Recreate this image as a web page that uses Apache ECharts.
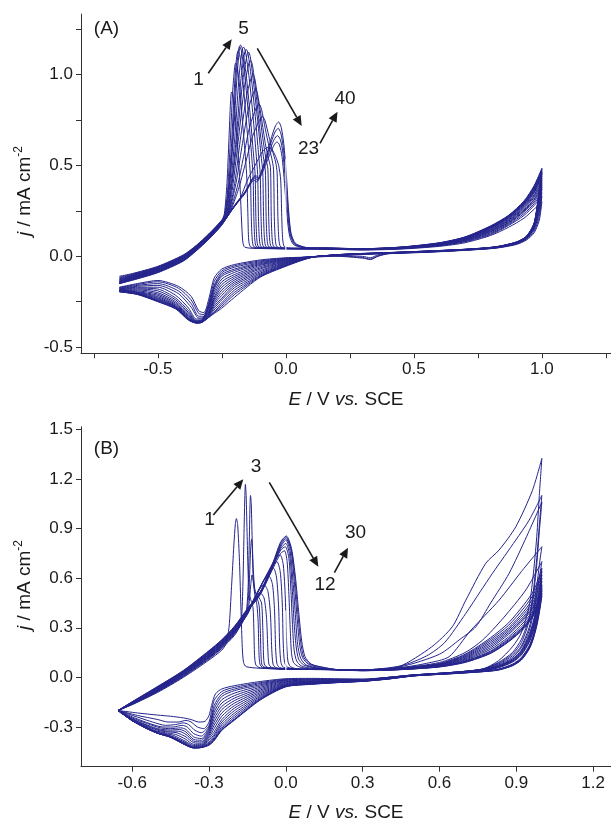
<!DOCTYPE html>
<html><head><meta charset="utf-8">
<script src="https://cdn.jsdelivr.net/npm/echarts@6/dist/echarts.min.js"></script>
<style>html,body{margin:0;padding:0;background:#fff}#c{width:611px;height:825px}</style>
</head><body><div id="c"></div>
<script>
// ---------- Panel A (40 cycles, representative ones) : [E (V), j (mA cm-2)] ----------
const A01 = [[-0.65,-0.11],[-0.6,-0.095],[-0.5,-0.055],[-0.4,0.008],[-0.35,0.06],[-0.3,0.125],[-0.25,0.2],
 [-0.24,0.235],[-0.23,0.4],[-0.222,0.65],[-0.216,0.85],[-0.212,0.905],[-0.207,0.89],[-0.198,0.78],[-0.188,0.6],[-0.18,0.42],[-0.173,0.2],[-0.168,0.08],[-0.16,0.05],[-0.1,0.043],
 [0.15,0.04],[0.3,0.035],[0.45,0.04],[0.6,0.055],[0.7,0.075],[0.8,0.115],[0.87,0.16],[0.93,0.21],[0.97,0.26],[1.0,0.30],
 [0.99,0.2],[0.97,0.13],[0.94,0.09],[0.9,0.065],[0.82,0.045],[0.7,0.033],[0.55,0.022],[0.4,0.014],[0.36,0.0],[0.33,-0.018],[0.3,-0.01],[0.2,0.0],[0.1,-0.004],
 [0.0,-0.008],[-0.1,-0.02],[-0.2,-0.045],[-0.25,-0.07],[-0.28,-0.12],[-0.3,-0.23],[-0.32,-0.31],[-0.34,-0.3],[-0.37,-0.22],[-0.42,-0.165],[-0.5,-0.133],[-0.58,-0.15],[-0.65,-0.17]];
const A02 = [[-0.65,-0.115],[-0.6,-0.098],[-0.5,-0.058],[-0.4,0.006],[-0.35,0.058],[-0.3,0.123],[-0.25,0.198],
 [-0.24,0.225],[-0.228,0.35],[-0.218,0.6],[-0.208,0.9],[-0.2,1.04],[-0.196,1.065],[-0.19,1.045],[-0.18,0.93],[-0.168,0.72],[-0.158,0.55],[-0.152,0.42],[-0.148,0.22],[-0.145,0.09],[-0.138,0.052],[-0.1,0.044],
 [0.15,0.04],[0.3,0.036],[0.45,0.042],[0.6,0.058],[0.7,0.08],[0.8,0.12],[0.87,0.17],[0.93,0.225],[0.97,0.28],[1.0,0.33],
 [0.99,0.22],[0.97,0.14],[0.94,0.095],[0.9,0.068],[0.82,0.046],[0.7,0.034],[0.55,0.023],[0.4,0.015],[0.36,0.003],[0.33,-0.015],[0.3,-0.006],[0.2,0.002],[0.1,-0.004],
 [0.0,-0.01],[-0.1,-0.025],[-0.2,-0.052],[-0.25,-0.08],[-0.28,-0.14],[-0.3,-0.25],[-0.32,-0.32],[-0.34,-0.315],[-0.37,-0.24],[-0.42,-0.175],[-0.5,-0.14],[-0.58,-0.155],[-0.65,-0.172]];
const A03 = [[-0.65,-0.12],[-0.6,-0.101],[-0.5,-0.06],[-0.4,0.004],[-0.35,0.056],[-0.3,0.121],[-0.25,0.197],
 [-0.238,0.225],[-0.225,0.36],[-0.212,0.62],[-0.2,0.95],[-0.192,1.1],[-0.187,1.13],[-0.18,1.11],[-0.168,0.97],[-0.155,0.76],[-0.145,0.58],[-0.138,0.43],[-0.135,0.22],[-0.131,0.09],[-0.124,0.052],[-0.08,0.044],
 [0.15,0.041],[0.3,0.037],[0.45,0.043],[0.6,0.06],[0.7,0.083],[0.8,0.125],[0.87,0.175],[0.93,0.235],[0.97,0.29],[1.0,0.35],
 [0.99,0.24],[0.97,0.15],[0.94,0.098],[0.9,0.07],[0.82,0.047],[0.7,0.034],[0.55,0.024],[0.4,0.016],[0.36,0.008],[0.33,-0.008],[0.3,0.0],[0.2,0.004],[0.1,-0.003],
 [0.0,-0.012],[-0.1,-0.03],[-0.2,-0.06],[-0.25,-0.09],[-0.28,-0.16],[-0.3,-0.26],[-0.32,-0.33],[-0.34,-0.33],[-0.37,-0.26],[-0.42,-0.19],[-0.5,-0.15],[-0.58,-0.16],[-0.65,-0.175]];
const A04 = [[-0.65,-0.124],[-0.6,-0.104],[-0.5,-0.062],[-0.4,0.002],[-0.35,0.055],[-0.3,0.12],[-0.25,0.196],
 [-0.236,0.226],[-0.222,0.37],[-0.208,0.64],[-0.195,0.98],[-0.186,1.13],[-0.181,1.155],[-0.174,1.135],[-0.16,0.99],[-0.146,0.78],[-0.135,0.58],[-0.128,0.44],[-0.125,0.22],[-0.121,0.09],[-0.114,0.052],[-0.07,0.044],
 [0.15,0.041],[0.3,0.037],[0.45,0.044],[0.6,0.062],[0.7,0.086],[0.8,0.13],[0.87,0.18],[0.93,0.245],[0.97,0.3],[1.0,0.37],
 [0.99,0.26],[0.97,0.155],[0.94,0.1],[0.9,0.07],[0.82,0.048],[0.7,0.035],[0.55,0.024],[0.4,0.016],[0.3,0.011],[0.2,0.005],[0.1,-0.002],
 [0.0,-0.015],[-0.1,-0.035],[-0.2,-0.07],[-0.25,-0.1],[-0.28,-0.17],[-0.3,-0.27],[-0.32,-0.335],[-0.34,-0.34],[-0.37,-0.28],[-0.42,-0.205],[-0.5,-0.16],[-0.58,-0.165],[-0.65,-0.178]];
const A05 = [[-0.65,-0.127],[-0.6,-0.106],[-0.5,-0.064],[-0.4,0.0],[-0.35,0.054],[-0.3,0.119],[-0.25,0.195],
 [-0.235,0.228],[-0.22,0.38],[-0.205,0.66],[-0.19,1.0],[-0.181,1.145],[-0.177,1.164],[-0.17,1.145],[-0.155,1.0],[-0.14,0.79],[-0.128,0.59],[-0.12,0.45],[-0.117,0.22],[-0.113,0.09],[-0.106,0.052],[-0.06,0.044],
 [0.15,0.042],[0.3,0.038],[0.45,0.044],[0.6,0.063],[0.7,0.088],[0.8,0.135],[0.87,0.185],[0.93,0.25],[0.97,0.31],[1.0,0.38],
 [0.99,0.27],[0.97,0.16],[0.94,0.1],[0.9,0.071],[0.82,0.048],[0.7,0.035],[0.55,0.025],[0.4,0.017],[0.3,0.012],[0.2,0.006],[0.1,-0.002],
 [0.0,-0.017],[-0.1,-0.04],[-0.2,-0.078],[-0.25,-0.11],[-0.28,-0.18],[-0.3,-0.275],[-0.33,-0.345],[-0.35,-0.345],[-0.38,-0.285],[-0.43,-0.215],[-0.5,-0.17],[-0.58,-0.17],[-0.65,-0.18]];
const A07 = [[-0.65,-0.13],[-0.6,-0.108],[-0.5,-0.066],[-0.4,-0.002],[-0.35,0.053],[-0.3,0.118],[-0.25,0.194],
 [-0.232,0.23],[-0.215,0.4],[-0.198,0.68],[-0.182,1.0],[-0.17,1.14],[-0.165,1.152],[-0.158,1.13],[-0.143,0.98],[-0.128,0.77],[-0.117,0.58],[-0.11,0.45],[-0.107,0.22],[-0.103,0.09],[-0.096,0.052],[-0.05,0.044],
 [0.15,0.042],[0.3,0.038],[0.45,0.045],[0.6,0.064],[0.7,0.09],[0.8,0.138],[0.87,0.188],[0.93,0.255],[0.97,0.315],[1.0,0.39],
 [0.99,0.28],[0.97,0.16],[0.94,0.1],[0.9,0.072],[0.82,0.048],[0.7,0.035],[0.55,0.025],[0.4,0.017],[0.3,0.012],[0.2,0.006],[0.1,-0.003],
 [0.0,-0.02],[-0.1,-0.045],[-0.2,-0.088],[-0.25,-0.125],[-0.28,-0.195],[-0.3,-0.285],[-0.33,-0.35],[-0.35,-0.352],[-0.38,-0.3],[-0.43,-0.23],[-0.5,-0.18],[-0.58,-0.175],[-0.65,-0.182]];
const A09 = [[-0.65,-0.133],[-0.6,-0.11],[-0.5,-0.068],[-0.4,-0.004],[-0.35,0.052],[-0.3,0.117],[-0.25,0.193],
 [-0.23,0.232],[-0.212,0.4],[-0.192,0.68],[-0.175,0.98],[-0.161,1.12],[-0.155,1.14],[-0.148,1.12],[-0.133,0.96],[-0.118,0.75],[-0.107,0.57],[-0.1,0.45],[-0.097,0.22],[-0.093,0.09],[-0.086,0.052],[-0.04,0.044],
 [0.15,0.042],[0.3,0.039],[0.45,0.046],[0.6,0.066],[0.7,0.093],[0.8,0.142],[0.87,0.193],[0.93,0.262],[0.97,0.325],[1.0,0.40],
 [0.99,0.29],[0.97,0.165],[0.94,0.102],[0.9,0.073],[0.82,0.049],[0.7,0.036],[0.55,0.025],[0.4,0.017],[0.3,0.012],[0.2,0.006],[0.1,-0.003],
 [0.0,-0.023],[-0.1,-0.05],[-0.2,-0.1],[-0.25,-0.14],[-0.28,-0.21],[-0.3,-0.29],[-0.33,-0.353],[-0.35,-0.355],[-0.38,-0.31],[-0.43,-0.24],[-0.5,-0.19],[-0.58,-0.18],[-0.65,-0.184]];
const A11 = [[-0.65,-0.136],[-0.6,-0.112],[-0.5,-0.07],[-0.4,-0.006],[-0.35,0.05],[-0.3,0.115],[-0.25,0.192],
 [-0.228,0.234],[-0.21,0.4],[-0.188,0.68],[-0.168,0.97],[-0.152,1.105],[-0.146,1.125],[-0.139,1.1],[-0.124,0.93],[-0.108,0.72],[-0.097,0.56],[-0.09,0.46],[-0.087,0.22],[-0.083,0.09],[-0.076,0.052],[-0.03,0.044],
 [0.15,0.043],[0.3,0.039],[0.45,0.046],[0.6,0.067],[0.7,0.095],[0.8,0.145],[0.87,0.197],[0.93,0.268],[0.97,0.333],[1.0,0.41],
 [0.99,0.3],[0.97,0.165],[0.94,0.103],[0.9,0.073],[0.82,0.049],[0.7,0.036],[0.55,0.026],[0.4,0.018],[0.3,0.013],[0.2,0.007],[0.1,-0.003],
 [0.0,-0.026],[-0.1,-0.057],[-0.2,-0.11],[-0.25,-0.155],[-0.28,-0.225],[-0.3,-0.3],[-0.33,-0.355],[-0.35,-0.358],[-0.38,-0.318],[-0.43,-0.25],[-0.5,-0.2],[-0.58,-0.185],[-0.65,-0.186]];
const A13 = [[-0.65,-0.138],[-0.6,-0.114],[-0.5,-0.072],[-0.4,-0.008],[-0.35,0.048],[-0.3,0.113],[-0.25,0.19],
 [-0.226,0.236],[-0.206,0.4],[-0.184,0.66],[-0.162,0.93],[-0.145,1.06],[-0.138,1.08],[-0.13,1.05],[-0.115,0.88],[-0.1,0.68],[-0.088,0.55],[-0.08,0.47],[-0.077,0.22],[-0.073,0.09],[-0.066,0.052],[-0.02,0.044],
 [0.15,0.043],[0.3,0.039],[0.45,0.047],[0.6,0.068],[0.7,0.097],[0.8,0.148],[0.87,0.2],[0.93,0.273],[0.97,0.34],[1.0,0.42],
 [0.99,0.31],[0.97,0.17],[0.94,0.104],[0.9,0.074],[0.82,0.05],[0.7,0.036],[0.55,0.026],[0.4,0.018],[0.3,0.013],[0.2,0.007],[0.1,-0.004],
 [0.0,-0.029],[-0.1,-0.064],[-0.2,-0.12],[-0.25,-0.17],[-0.28,-0.235],[-0.3,-0.305],[-0.33,-0.356],[-0.35,-0.36],[-0.38,-0.325],[-0.43,-0.258],[-0.5,-0.208],[-0.58,-0.19],[-0.65,-0.188]];
const A15 = [[-0.65,-0.14],[-0.6,-0.116],[-0.5,-0.074],[-0.4,-0.01],[-0.35,0.046],[-0.3,0.111],[-0.25,0.188],
 [-0.225,0.236],[-0.2,0.4],[-0.178,0.64],[-0.155,0.87],[-0.136,0.98],[-0.128,1.0],[-0.12,0.97],[-0.105,0.82],[-0.09,0.65],[-0.078,0.54],[-0.07,0.48],[-0.067,0.22],[-0.063,0.09],[-0.056,0.052],[-0.01,0.044],
 [0.15,0.043],[0.3,0.04],[0.45,0.047],[0.6,0.069],[0.7,0.099],[0.8,0.152],[0.87,0.205],[0.93,0.278],[0.97,0.35],[1.0,0.43],
 [0.99,0.32],[0.97,0.17],[0.94,0.105],[0.9,0.075],[0.82,0.05],[0.7,0.037],[0.55,0.027],[0.4,0.018],[0.3,0.013],[0.2,0.007],[0.1,-0.004],
 [0.0,-0.032],[-0.1,-0.07],[-0.2,-0.13],[-0.25,-0.185],[-0.28,-0.245],[-0.3,-0.31],[-0.33,-0.358],[-0.35,-0.362],[-0.38,-0.33],[-0.43,-0.265],[-0.5,-0.215],[-0.58,-0.195],[-0.65,-0.19]];
const A17 = [[-0.65,-0.142],[-0.6,-0.118],[-0.5,-0.076],[-0.4,-0.012],[-0.35,0.044],[-0.3,0.109],[-0.25,0.186],
 [-0.224,0.236],[-0.195,0.4],[-0.172,0.6],[-0.148,0.8],[-0.127,0.9],[-0.118,0.92],[-0.11,0.89],[-0.095,0.76],[-0.08,0.62],[-0.068,0.54],[-0.06,0.49],[-0.057,0.22],[-0.053,0.09],[-0.046,0.052],[0.0,0.044],
 [0.15,0.044],[0.3,0.04],[0.45,0.048],[0.6,0.07],[0.7,0.1],[0.8,0.155],[0.87,0.208],[0.93,0.283],[0.97,0.355],[1.0,0.44],
 [0.99,0.33],[0.97,0.175],[0.94,0.106],[0.9,0.075],[0.82,0.05],[0.7,0.037],[0.55,0.027],[0.4,0.019],[0.3,0.014],[0.2,0.008],[0.1,-0.004],
 [0.0,-0.035],[-0.1,-0.078],[-0.2,-0.14],[-0.25,-0.2],[-0.28,-0.255],[-0.3,-0.315],[-0.33,-0.36],[-0.35,-0.363],[-0.38,-0.335],[-0.43,-0.27],[-0.5,-0.222],[-0.58,-0.198],[-0.65,-0.19]];
const A19 = [[-0.65,-0.144],[-0.6,-0.12],[-0.5,-0.078],[-0.4,-0.014],[-0.35,0.042],[-0.3,0.107],[-0.25,0.184],
 [-0.222,0.238],[-0.19,0.38],[-0.165,0.55],[-0.14,0.72],[-0.115,0.82],[-0.105,0.84],[-0.095,0.81],[-0.08,0.7],[-0.065,0.6],[-0.055,0.54],[-0.048,0.48],[-0.045,0.22],[-0.041,0.09],[-0.034,0.052],[0.01,0.044],
 [0.15,0.044],[0.3,0.04],[0.45,0.048],[0.6,0.07],[0.7,0.101],[0.8,0.157],[0.87,0.212],[0.93,0.287],[0.97,0.36],[1.0,0.45],
 [0.99,0.34],[0.97,0.175],[0.94,0.107],[0.9,0.076],[0.82,0.051],[0.7,0.037],[0.55,0.027],[0.4,0.019],[0.3,0.014],[0.2,0.008],[0.1,-0.005],
 [0.0,-0.038],[-0.1,-0.085],[-0.2,-0.15],[-0.25,-0.215],[-0.28,-0.265],[-0.3,-0.32],[-0.33,-0.361],[-0.35,-0.364],[-0.38,-0.34],[-0.43,-0.275],[-0.5,-0.228],[-0.58,-0.2],[-0.65,-0.192]];
const A21 = [[-0.65,-0.146],[-0.6,-0.122],[-0.5,-0.08],[-0.4,-0.016],[-0.35,0.04],[-0.3,0.105],[-0.25,0.182],
 [-0.22,0.238],[-0.185,0.37],[-0.16,0.5],[-0.13,0.66],[-0.103,0.75],[-0.092,0.77],[-0.082,0.75],[-0.066,0.66],[-0.052,0.58],[-0.04,0.52],[-0.034,0.46],[-0.031,0.22],[-0.027,0.09],[-0.02,0.052],[0.02,0.044],
 [0.15,0.044],[0.3,0.041],[0.45,0.049],[0.6,0.071],[0.7,0.102],[0.8,0.159],[0.87,0.215],[0.93,0.29],[0.97,0.365],[1.0,0.455],
 [0.99,0.345],[0.97,0.178],[0.94,0.108],[0.9,0.076],[0.82,0.051],[0.7,0.038],[0.55,0.028],[0.4,0.019],[0.3,0.014],[0.2,0.008],[0.1,-0.005],
 [0.0,-0.041],[-0.1,-0.092],[-0.2,-0.16],[-0.25,-0.23],[-0.28,-0.275],[-0.3,-0.322],[-0.33,-0.362],[-0.35,-0.365],[-0.38,-0.343],[-0.43,-0.278],[-0.5,-0.233],[-0.58,-0.203],[-0.65,-0.192]];
const A23 = [[-0.65,-0.147],[-0.6,-0.124],[-0.5,-0.082],[-0.4,-0.018],[-0.35,0.038],[-0.3,0.103],[-0.25,0.18],
 [-0.22,0.238],[-0.18,0.315],[-0.15,0.42],[-0.12,0.5],[-0.09,0.58],[-0.07,0.6],[-0.055,0.59],[-0.04,0.55],[-0.028,0.5],[-0.02,0.42],[-0.016,0.22],[-0.012,0.09],[-0.005,0.052],[0.03,0.044],
 [0.15,0.045],[0.3,0.041],[0.45,0.049],[0.6,0.071],[0.7,0.103],[0.8,0.16],[0.87,0.217],[0.93,0.293],[0.97,0.37],[1.0,0.46],
 [0.99,0.35],[0.97,0.18],[0.94,0.108],[0.9,0.077],[0.82,0.051],[0.7,0.038],[0.55,0.028],[0.4,0.02],[0.3,0.015],[0.2,0.008],[0.1,-0.005],
 [0.0,-0.044],[-0.1,-0.098],[-0.2,-0.172],[-0.25,-0.24],[-0.28,-0.285],[-0.3,-0.325],[-0.33,-0.363],[-0.35,-0.366],[-0.38,-0.345],[-0.43,-0.28],[-0.5,-0.238],[-0.58,-0.205],[-0.65,-0.193]];
const A27 = [[-0.65,-0.148],[-0.6,-0.126],[-0.5,-0.084],[-0.4,-0.02],[-0.35,0.036],[-0.3,0.101],[-0.25,0.178],
 [-0.2,0.275],[-0.16,0.345],[-0.135,0.405],[-0.125,0.42],[-0.115,0.41],[-0.1,0.435],[-0.08,0.5],[-0.06,0.57],[-0.045,0.615],[-0.035,0.63],[-0.025,0.615],[-0.015,0.55],[-0.005,0.4],[0.005,0.22],[0.015,0.11],[0.03,0.065],[0.06,0.05],[0.1,0.045],
 [0.15,0.045],[0.3,0.041],[0.45,0.05],[0.6,0.072],[0.7,0.104],[0.8,0.162],[0.87,0.22],[0.93,0.296],[0.97,0.375],[1.0,0.465],
 [0.99,0.355],[0.97,0.18],[0.94,0.109],[0.9,0.077],[0.82,0.052],[0.7,0.038],[0.55,0.028],[0.4,0.02],[0.3,0.015],[0.2,0.008],[0.1,-0.006],
 [0.0,-0.047],[-0.1,-0.104],[-0.2,-0.185],[-0.25,-0.255],[-0.28,-0.295],[-0.3,-0.33],[-0.33,-0.364],[-0.35,-0.366],[-0.38,-0.347],[-0.43,-0.282],[-0.5,-0.242],[-0.58,-0.207],[-0.65,-0.194]];
const A31 = [[-0.65,-0.149],[-0.6,-0.128],[-0.5,-0.086],[-0.4,-0.022],[-0.35,0.034],[-0.3,0.099],[-0.25,0.176],
 [-0.2,0.278],[-0.16,0.35],[-0.133,0.415],[-0.122,0.432],[-0.112,0.418],[-0.1,0.445],[-0.08,0.515],[-0.06,0.595],[-0.045,0.645],[-0.033,0.665],[-0.022,0.645],[-0.012,0.575],[-0.002,0.42],[0.007,0.24],[0.017,0.12],[0.033,0.068],[0.065,0.05],[0.1,0.045],
 [0.15,0.045],[0.3,0.042],[0.45,0.05],[0.6,0.073],[0.7,0.105],[0.8,0.164],[0.87,0.222],[0.93,0.298],[0.97,0.38],[1.0,0.47],
 [0.99,0.36],[0.97,0.182],[0.94,0.11],[0.9,0.078],[0.82,0.052],[0.7,0.038],[0.55,0.029],[0.4,0.02],[0.3,0.015],[0.2,0.009],[0.1,-0.006],
 [0.0,-0.05],[-0.1,-0.108],[-0.2,-0.198],[-0.25,-0.265],[-0.28,-0.305],[-0.3,-0.333],[-0.33,-0.364],[-0.35,-0.366],[-0.38,-0.348],[-0.43,-0.285],[-0.5,-0.245],[-0.58,-0.208],[-0.65,-0.194]];
const A35 = [[-0.65,-0.15],[-0.6,-0.13],[-0.5,-0.088],[-0.4,-0.024],[-0.35,0.032],[-0.3,0.097],[-0.25,0.174],
 [-0.2,0.28],[-0.16,0.352],[-0.132,0.422],[-0.12,0.44],[-0.11,0.425],[-0.097,0.458],[-0.077,0.54],[-0.057,0.63],[-0.042,0.685],[-0.03,0.705],[-0.02,0.68],[-0.01,0.6],[0.0,0.435],[0.009,0.255],[0.019,0.125],[0.035,0.07],[0.068,0.051],[0.1,0.045],
 [0.15,0.045],[0.3,0.042],[0.45,0.051],[0.6,0.074],[0.7,0.106],[0.8,0.166],[0.87,0.224],[0.93,0.3],[0.97,0.385],[1.0,0.48],
 [0.99,0.365],[0.97,0.183],[0.94,0.11],[0.9,0.078],[0.82,0.052],[0.7,0.039],[0.55,0.029],[0.4,0.02],[0.3,0.016],[0.2,0.009],[0.1,-0.006],
 [0.0,-0.052],[-0.1,-0.112],[-0.2,-0.21],[-0.25,-0.275],[-0.28,-0.31],[-0.3,-0.335],[-0.33,-0.365],[-0.35,-0.367],[-0.38,-0.35],[-0.43,-0.288],[-0.5,-0.248],[-0.58,-0.209],[-0.65,-0.195]];
const A40 = [[-0.65,-0.15],[-0.6,-0.132],[-0.5,-0.09],[-0.4,-0.026],[-0.35,0.03],[-0.3,0.095],[-0.25,0.172],
 [-0.2,0.282],[-0.16,0.355],[-0.13,0.43],[-0.118,0.447],[-0.108,0.432],[-0.095,0.47],[-0.075,0.56],[-0.055,0.66],[-0.04,0.72],[-0.028,0.74],[-0.018,0.71],[-0.008,0.62],[0.002,0.45],[0.01,0.27],[0.02,0.13],[0.037,0.072],[0.07,0.052],[0.1,0.046],
 [0.15,0.046],[0.3,0.042],[0.45,0.051],[0.6,0.075],[0.7,0.107],[0.8,0.168],[0.87,0.226],[0.93,0.305],[0.97,0.39],[1.0,0.485],
 [0.99,0.37],[0.97,0.185],[0.94,0.111],[0.9,0.079],[0.82,0.053],[0.7,0.039],[0.55,0.029],[0.4,0.021],[0.3,0.016],[0.2,0.009],[0.1,-0.006],
 [0.0,-0.055],[-0.1,-0.115],[-0.2,-0.225],[-0.25,-0.285],[-0.28,-0.315],[-0.3,-0.335],[-0.33,-0.365],[-0.35,-0.367],[-0.38,-0.352],[-0.43,-0.29],[-0.5,-0.25],[-0.58,-0.21],[-0.65,-0.195]];
const gapA = [[0,0.015],[0,0.535]];

// ---------- Panel B (30 cycles, representative ones) ----------
const B01 = [[-0.655,-0.2],[-0.6,-0.165],[-0.5,-0.09],[-0.4,0.0],[-0.3,0.105],[-0.25,0.165],
 [-0.235,0.2],[-0.222,0.3],[-0.212,0.55],[-0.203,0.8],[-0.197,0.93],[-0.193,0.96],[-0.188,0.92],[-0.181,0.7],[-0.175,0.4],[-0.17,0.18],[-0.165,0.09],[-0.155,0.065],[-0.1,0.055],[0.0,0.05],
 [0.15,0.048],[0.3,0.045],[0.44,0.064],[0.57,0.185],[0.65,0.306],[0.703,0.467],[0.781,0.69],[0.833,0.77],[0.898,0.91],[0.963,1.13],[1.0,1.324],
 [0.99,1.1],[0.98,0.85],[0.965,0.6],[0.95,0.43],[0.92,0.27],[0.885,0.185],[0.83,0.1],[0.768,0.05],[0.65,0.03],[0.5,0.015],[0.4,0.0],[0.3,-0.01],[0.2,-0.008],[0.1,-0.006],
 [0.0,-0.008],[-0.1,-0.025],[-0.2,-0.05],[-0.25,-0.07],[-0.275,-0.1],[-0.29,-0.17],[-0.3,-0.23],[-0.315,-0.265],[-0.34,-0.27],[-0.37,-0.255],[-0.4,-0.245],[-0.45,-0.235],[-0.5,-0.228],[-0.58,-0.215],[-0.655,-0.2]];
const B02 = [[-0.655,-0.2],[-0.6,-0.163],[-0.5,-0.086],[-0.4,0.005],[-0.3,0.112],[-0.25,0.175],[-0.2,0.255],
 [-0.18,0.31],[-0.172,0.38],[-0.167,0.6],[-0.163,0.9],[-0.16,1.1],[-0.158,1.167],[-0.155,1.1],[-0.151,0.85],[-0.147,0.62],[-0.142,0.5],[-0.135,0.46],[-0.128,0.42],[-0.125,0.3],[-0.122,0.13],[-0.117,0.075],[-0.1,0.058],[0.0,0.05],
 [0.15,0.048],[0.3,0.045],[0.45,0.07],[0.55,0.13],[0.62,0.21],[0.703,0.387],[0.76,0.52],[0.807,0.629],[0.898,0.83],[0.95,0.95],[1.0,1.1],
 [0.99,0.92],[0.98,0.72],[0.965,0.5],[0.95,0.36],[0.92,0.23],[0.885,0.15],[0.83,0.09],[0.768,0.05],[0.65,0.03],[0.5,0.015],[0.4,0.0],[0.3,-0.012],[0.2,-0.012],[0.1,-0.01],
 [0.0,-0.012],[-0.1,-0.032],[-0.2,-0.06],[-0.25,-0.085],[-0.28,-0.14],[-0.3,-0.27],[-0.32,-0.31],[-0.345,-0.3],[-0.37,-0.27],[-0.39,-0.26],[-0.42,-0.27],[-0.46,-0.27],[-0.5,-0.255],[-0.58,-0.23],[-0.655,-0.2]];
const B03 = [[-0.655,-0.2],[-0.6,-0.162],[-0.5,-0.084],[-0.4,0.008],[-0.3,0.116],[-0.25,0.18],[-0.2,0.262],[-0.17,0.33],
 [-0.155,0.39],[-0.148,0.52],[-0.143,0.8],[-0.14,1.04],[-0.138,1.1],[-0.135,1.05],[-0.131,0.8],[-0.127,0.58],[-0.12,0.49],[-0.113,0.44],[-0.108,0.33],[-0.105,0.15],[-0.101,0.08],[-0.09,0.06],[0.0,0.05],
 [0.15,0.048],[0.3,0.046],[0.45,0.065],[0.6,0.14],[0.68,0.23],[0.742,0.306],[0.8,0.45],[0.872,0.629],[0.94,0.85],[1.0,1.06],
 [0.99,0.88],[0.98,0.68],[0.965,0.47],[0.95,0.34],[0.92,0.21],[0.885,0.14],[0.83,0.085],[0.768,0.05],[0.65,0.03],[0.5,0.015],[0.4,0.0],[0.3,-0.014],[0.2,-0.014],[0.1,-0.012],
 [0.0,-0.015],[-0.1,-0.038],[-0.2,-0.07],[-0.25,-0.1],[-0.28,-0.17],[-0.3,-0.29],[-0.33,-0.335],[-0.355,-0.32],[-0.38,-0.285],[-0.4,-0.275],[-0.43,-0.285],[-0.47,-0.29],[-0.52,-0.27],[-0.58,-0.24],[-0.655,-0.2]];
const B04 = [[-0.655,-0.2],[-0.6,-0.161],[-0.5,-0.082],[-0.4,0.011],[-0.3,0.12],[-0.25,0.184],[-0.2,0.266],[-0.17,0.335],
 [-0.152,0.4],[-0.144,0.53],[-0.139,0.72],[-0.136,0.81],[-0.134,0.835],[-0.131,0.8],[-0.127,0.65],[-0.121,0.53],[-0.112,0.48],[-0.104,0.43],[-0.1,0.3],[-0.097,0.14],[-0.093,0.075],[-0.08,0.06],[0.0,0.05],
 [0.15,0.048],[0.3,0.046],[0.45,0.06],[0.55,0.085],[0.6375,0.125],[0.72,0.28],[0.833,0.467],[0.92,0.64],[1.0,0.79],
 [0.99,0.68],[0.98,0.55],[0.965,0.4],[0.95,0.3],[0.92,0.19],[0.885,0.13],[0.83,0.08],[0.768,0.05],[0.65,0.03],[0.5,0.015],[0.4,0.0],[0.3,-0.015],[0.2,-0.016],[0.1,-0.015],
 [0.0,-0.018],[-0.1,-0.045],[-0.2,-0.08],[-0.25,-0.115],[-0.28,-0.19],[-0.3,-0.3],[-0.33,-0.355],[-0.36,-0.34],[-0.385,-0.3],[-0.405,-0.29],[-0.44,-0.3],[-0.48,-0.3],[-0.53,-0.28],[-0.59,-0.245],[-0.655,-0.2]];
const B05 = [[-0.655,-0.2],[-0.6,-0.16],[-0.5,-0.08],[-0.4,0.014],[-0.3,0.123],[-0.25,0.188],[-0.2,0.27],[-0.16,0.36],
 [-0.145,0.43],[-0.137,0.56],[-0.132,0.62],[-0.127,0.58],[-0.12,0.52],[-0.108,0.49],[-0.095,0.45],[-0.09,0.3],[-0.087,0.13],[-0.083,0.075],[-0.07,0.06],[0.0,0.05],
 [0.15,0.048],[0.3,0.046],[0.45,0.058],[0.6,0.09],[0.7,0.15],[0.768,0.225],[0.85,0.36],[0.937,0.528],[1.0,0.7],
 [0.99,0.6],[0.98,0.5],[0.965,0.37],[0.95,0.28],[0.92,0.18],[0.885,0.12],[0.83,0.075],[0.768,0.048],[0.65,0.03],[0.5,0.014],[0.4,-0.002],[0.3,-0.016],[0.2,-0.018],[0.1,-0.018],
 [0.0,-0.022],[-0.1,-0.052],[-0.2,-0.095],[-0.25,-0.135],[-0.28,-0.21],[-0.3,-0.31],[-0.33,-0.37],[-0.36,-0.36],[-0.39,-0.315],[-0.41,-0.305],[-0.45,-0.31],[-0.49,-0.305],[-0.54,-0.28],[-0.6,-0.245],[-0.655,-0.2]];
const B06 = [[-0.655,-0.2],[-0.6,-0.159],[-0.5,-0.078],[-0.4,0.017],[-0.3,0.126],[-0.25,0.192],[-0.2,0.274],[-0.15,0.38],
 [-0.13,0.455],[-0.115,0.5],[-0.1,0.51],[-0.085,0.48],[-0.075,0.35],[-0.07,0.16],[-0.066,0.08],[-0.055,0.06],[0.0,0.05],
 [0.15,0.048],[0.3,0.045],[0.45,0.056],[0.6,0.085],[0.7,0.14],[0.8,0.24],[0.87,0.33],[0.93,0.44],[0.97,0.53],[1.0,0.66],
 [0.99,0.52],[0.98,0.43],[0.965,0.33],[0.95,0.26],[0.92,0.165],[0.885,0.112],[0.83,0.07],[0.768,0.046],[0.65,0.028],[0.5,0.013],[0.4,-0.004],[0.3,-0.018],[0.2,-0.021],[0.1,-0.022],
 [0.0,-0.026],[-0.1,-0.06],[-0.2,-0.11],[-0.25,-0.155],[-0.28,-0.23],[-0.3,-0.32],[-0.33,-0.38],[-0.36,-0.375],[-0.39,-0.33],[-0.415,-0.315],[-0.45,-0.318],[-0.5,-0.31],[-0.55,-0.283],[-0.6,-0.25],[-0.655,-0.2]];
const B07 = [[-0.655,-0.2],[-0.6,-0.158],[-0.5,-0.076],[-0.4,0.02],[-0.3,0.129],[-0.25,0.195],[-0.2,0.277],[-0.15,0.383],
 [-0.12,0.48],[-0.1,0.54],[-0.085,0.56],[-0.07,0.52],[-0.06,0.38],[-0.055,0.17],[-0.05,0.08],[-0.04,0.06],[0.0,0.05],
 [0.15,0.048],[0.3,0.045],[0.45,0.055],[0.6,0.082],[0.7,0.135],[0.8,0.23],[0.87,0.315],[0.93,0.42],[0.97,0.51],[1.0,0.64],
 [0.99,0.51],[0.98,0.42],[0.965,0.32],[0.95,0.25],[0.92,0.16],[0.885,0.11],[0.83,0.069],[0.768,0.045],[0.65,0.028],[0.5,0.013],[0.4,-0.005],[0.3,-0.019],[0.2,-0.022],[0.1,-0.024],
 [0.0,-0.03],[-0.1,-0.068],[-0.2,-0.125],[-0.25,-0.175],[-0.28,-0.25],[-0.3,-0.33],[-0.33,-0.39],[-0.36,-0.385],[-0.39,-0.345],[-0.42,-0.325],[-0.46,-0.325],[-0.5,-0.315],[-0.55,-0.287],[-0.6,-0.252],[-0.655,-0.2]];
const B08 = [[-0.655,-0.2],[-0.6,-0.157],[-0.5,-0.074],[-0.4,0.022],[-0.3,0.132],[-0.25,0.198],[-0.2,0.28],[-0.15,0.386],
 [-0.12,0.482],[-0.1,0.542],[-0.08,0.6],[-0.065,0.61],[-0.052,0.56],[-0.044,0.4],[-0.04,0.18],[-0.035,0.085],[-0.025,0.06],[0.02,0.05],
 [0.15,0.048],[0.3,0.044],[0.45,0.054],[0.6,0.08],[0.7,0.13],[0.8,0.22],[0.87,0.3],[0.93,0.4],[0.97,0.49],[1.0,0.62],
 [0.99,0.5],[0.98,0.41],[0.965,0.31],[0.95,0.24],[0.92,0.155],[0.885,0.105],[0.83,0.067],[0.768,0.044],[0.65,0.027],[0.5,0.012],[0.4,-0.005],[0.3,-0.019],[0.2,-0.023],[0.1,-0.026],
 [0.0,-0.034],[-0.1,-0.076],[-0.2,-0.14],[-0.25,-0.195],[-0.28,-0.27],[-0.3,-0.34],[-0.33,-0.398],[-0.36,-0.395],[-0.39,-0.36],[-0.425,-0.335],[-0.46,-0.33],[-0.5,-0.32],[-0.56,-0.285],[-0.6,-0.255],[-0.655,-0.2]];
const B09 = [[-0.655,-0.2],[-0.6,-0.156],[-0.5,-0.072],[-0.4,0.024],[-0.3,0.135],[-0.25,0.201],[-0.2,0.283],[-0.15,0.389],
 [-0.12,0.484],[-0.1,0.544],[-0.08,0.602],[-0.06,0.65],[-0.048,0.66],[-0.036,0.6],[-0.028,0.42],[-0.024,0.19],[-0.019,0.09],[-0.01,0.062],[0.03,0.05],
 [0.15,0.047],[0.3,0.044],[0.45,0.053],[0.6,0.078],[0.7,0.125],[0.8,0.21],[0.87,0.29],[0.93,0.385],[0.97,0.47],[1.0,0.6],
 [0.99,0.49],[0.98,0.4],[0.965,0.3],[0.95,0.235],[0.92,0.15],[0.885,0.102],[0.83,0.065],[0.768,0.043],[0.65,0.027],[0.5,0.012],[0.4,-0.006],[0.3,-0.02],[0.2,-0.024],[0.1,-0.028],
 [0.0,-0.038],[-0.1,-0.084],[-0.2,-0.155],[-0.25,-0.215],[-0.28,-0.29],[-0.3,-0.35],[-0.33,-0.405],[-0.36,-0.405],[-0.39,-0.375],[-0.43,-0.345],[-0.47,-0.335],[-0.51,-0.322],[-0.56,-0.288],[-0.6,-0.258],[-0.655,-0.2]];
const B10 = [[-0.655,-0.2],[-0.6,-0.155],[-0.5,-0.07],[-0.4,0.026],[-0.3,0.138],[-0.25,0.204],[-0.2,0.286],[-0.15,0.392],
 [-0.12,0.486],[-0.1,0.546],[-0.08,0.604],[-0.05,0.68],[-0.035,0.7],[-0.022,0.64],[-0.014,0.45],[-0.01,0.2],[-0.005,0.09],[0.005,0.063],[0.04,0.05],
 [0.15,0.047],[0.3,0.044],[0.45,0.053],[0.6,0.076],[0.7,0.12],[0.8,0.2],[0.87,0.28],[0.93,0.37],[0.97,0.455],[1.0,0.58],
 [0.99,0.47],[0.98,0.38],[0.965,0.29],[0.95,0.225],[0.92,0.145],[0.885,0.098],[0.83,0.062],[0.768,0.042],[0.65,0.026],[0.5,0.011],[0.4,-0.006],[0.3,-0.02],[0.2,-0.025],[0.1,-0.03],
 [0.0,-0.042],[-0.1,-0.092],[-0.2,-0.17],[-0.25,-0.235],[-0.28,-0.31],[-0.3,-0.36],[-0.33,-0.41],[-0.36,-0.412],[-0.39,-0.388],[-0.44,-0.35],[-0.48,-0.337],[-0.52,-0.32],[-0.56,-0.29],[-0.6,-0.26],[-0.655,-0.2]];
const B11 = [[-0.655,-0.2],[-0.6,-0.154],[-0.5,-0.068],[-0.4,0.028],[-0.3,0.141],[-0.25,0.207],[-0.2,0.289],[-0.15,0.395],
 [-0.12,0.488],[-0.1,0.548],[-0.08,0.606],[-0.04,0.72],[-0.022,0.74],[-0.01,0.68],[-0.002,0.48],[0.003,0.22],[0.008,0.1],[0.018,0.065],[0.05,0.05],
 [0.15,0.047],[0.3,0.043],[0.45,0.052],[0.6,0.074],[0.7,0.115],[0.8,0.19],[0.87,0.27],[0.93,0.36],[0.97,0.44],[1.0,0.56],
 [0.99,0.46],[0.98,0.37],[0.965,0.28],[0.95,0.215],[0.92,0.14],[0.885,0.095],[0.83,0.06],[0.768,0.041],[0.65,0.026],[0.5,0.011],[0.4,-0.007],[0.3,-0.021],[0.2,-0.026],[0.1,-0.032],
 [0.0,-0.045],[-0.1,-0.1],[-0.2,-0.185],[-0.25,-0.255],[-0.28,-0.33],[-0.3,-0.37],[-0.33,-0.415],[-0.36,-0.418],[-0.39,-0.395],[-0.45,-0.352],[-0.5,-0.335],[-0.55,-0.3],[-0.6,-0.262],[-0.655,-0.2]];
const B12 = [[-0.655,-0.2],[-0.6,-0.153],[-0.5,-0.066],[-0.4,0.03],[-0.3,0.144],[-0.25,0.21],[-0.2,0.292],[-0.15,0.398],
 [-0.1,0.5],[-0.05,0.66],[-0.02,0.75],[-0.005,0.765],[0.005,0.7],[0.012,0.5],[0.017,0.3],[0.022,0.15],[0.03,0.09],[0.05,0.065],[0.1,0.05],
 [0.2,0.047],[0.3,0.043],[0.45,0.051],[0.6,0.072],[0.7,0.11],[0.8,0.18],[0.87,0.26],[0.93,0.35],[0.97,0.43],[1.0,0.55],
 [0.99,0.45],[0.98,0.36],[0.965,0.27],[0.95,0.21],[0.92,0.135],[0.885,0.092],[0.83,0.058],[0.768,0.04],[0.65,0.025],[0.5,0.011],[0.4,-0.007],[0.3,-0.021],[0.2,-0.027],[0.1,-0.034],
 [0.0,-0.048],[-0.1,-0.108],[-0.2,-0.2],[-0.25,-0.27],[-0.28,-0.345],[-0.3,-0.38],[-0.33,-0.418],[-0.36,-0.422],[-0.39,-0.4],[-0.45,-0.356],[-0.5,-0.336],[-0.55,-0.3],[-0.6,-0.262],[-0.655,-0.2]];
const B15 = [[-0.655,-0.2],[-0.6,-0.152],[-0.5,-0.064],[-0.4,0.032],[-0.3,0.147],[-0.25,0.213],[-0.2,0.295],[-0.15,0.401],
 [-0.1,0.505],[-0.05,0.67],[-0.02,0.77],[-0.002,0.79],[0.012,0.72],[0.02,0.52],[0.026,0.32],[0.032,0.17],[0.042,0.1],[0.06,0.07],[0.1,0.055],
 [0.2,0.047],[0.3,0.042],[0.45,0.05],[0.6,0.07],[0.7,0.105],[0.8,0.17],[0.87,0.245],[0.93,0.335],[0.97,0.415],[1.0,0.54],
 [0.99,0.43],[0.98,0.34],[0.965,0.25],[0.95,0.19],[0.92,0.12],[0.885,0.08],[0.83,0.05],[0.768,0.038],[0.65,0.025],[0.5,0.01],[0.4,-0.008],[0.3,-0.022],[0.2,-0.028],[0.1,-0.036],
 [0.0,-0.05],[-0.1,-0.115],[-0.2,-0.215],[-0.25,-0.285],[-0.28,-0.355],[-0.3,-0.39],[-0.33,-0.42],[-0.36,-0.424],[-0.39,-0.405],[-0.45,-0.358],[-0.5,-0.337],[-0.55,-0.302],[-0.6,-0.262],[-0.655,-0.2]];
const B18 = [[-0.655,-0.2],[-0.6,-0.151],[-0.5,-0.062],[-0.4,0.034],[-0.3,0.15],[-0.25,0.216],[-0.2,0.298],[-0.15,0.404],
 [-0.1,0.508],[-0.05,0.675],[-0.02,0.78],[0.0,0.81],[0.015,0.74],[0.025,0.54],[0.032,0.34],[0.04,0.19],[0.05,0.11],[0.07,0.075],[0.12,0.055],
 [0.2,0.047],[0.3,0.042],[0.45,0.049],[0.6,0.068],[0.7,0.1],[0.8,0.16],[0.87,0.235],[0.93,0.32],[0.97,0.405],[1.0,0.53],
 [0.99,0.42],[0.98,0.335],[0.965,0.245],[0.95,0.185],[0.92,0.115],[0.885,0.077],[0.83,0.048],[0.768,0.037],[0.65,0.024],[0.5,0.01],[0.4,-0.008],[0.3,-0.022],[0.2,-0.029],[0.1,-0.038],
 [0.0,-0.052],[-0.1,-0.122],[-0.2,-0.228],[-0.25,-0.298],[-0.28,-0.365],[-0.3,-0.397],[-0.33,-0.422],[-0.36,-0.425],[-0.39,-0.408],[-0.45,-0.36],[-0.5,-0.338],[-0.55,-0.303],[-0.6,-0.262],[-0.655,-0.2]];
const B21 = [[-0.655,-0.2],[-0.6,-0.15],[-0.5,-0.06],[-0.4,0.036],[-0.3,0.153],[-0.25,0.219],[-0.2,0.301],[-0.15,0.407],
 [-0.1,0.51],[-0.05,0.68],[-0.02,0.79],[0.0,0.83],[0.017,0.76],[0.029,0.56],[0.038,0.36],[0.046,0.2],[0.058,0.115],[0.08,0.075],[0.13,0.055],
 [0.2,0.047],[0.3,0.041],[0.45,0.048],[0.6,0.066],[0.7,0.097],[0.8,0.155],[0.87,0.228],[0.93,0.31],[0.97,0.395],[1.0,0.52],
 [0.99,0.415],[0.98,0.33],[0.965,0.24],[0.95,0.18],[0.92,0.112],[0.885,0.075],[0.83,0.047],[0.768,0.036],[0.65,0.024],[0.5,0.01],[0.4,-0.009],[0.3,-0.023],[0.2,-0.03],[0.1,-0.039],
 [0.0,-0.054],[-0.1,-0.128],[-0.2,-0.24],[-0.25,-0.308],[-0.28,-0.372],[-0.3,-0.402],[-0.33,-0.423],[-0.36,-0.426],[-0.39,-0.41],[-0.45,-0.362],[-0.5,-0.338],[-0.55,-0.304],[-0.6,-0.262],[-0.655,-0.2]];
const B24 = [[-0.655,-0.2],[-0.6,-0.149],[-0.5,-0.058],[-0.4,0.038],[-0.3,0.156],[-0.25,0.222],[-0.2,0.304],[-0.15,0.41],
 [-0.1,0.512],[-0.05,0.685],[-0.02,0.8],[0.0,0.84],[0.02,0.77],[0.033,0.58],[0.043,0.38],[0.053,0.21],[0.065,0.12],[0.09,0.078],[0.14,0.056],
 [0.2,0.047],[0.3,0.041],[0.45,0.048],[0.6,0.065],[0.7,0.095],[0.8,0.15],[0.87,0.222],[0.93,0.305],[0.97,0.39],[1.0,0.51],
 [0.99,0.41],[0.98,0.325],[0.965,0.235],[0.95,0.175],[0.92,0.11],[0.885,0.073],[0.83,0.046],[0.768,0.035],[0.65,0.023],[0.5,0.009],[0.4,-0.009],[0.3,-0.023],[0.2,-0.031],[0.1,-0.04],
 [0.0,-0.055],[-0.1,-0.132],[-0.2,-0.25],[-0.25,-0.315],[-0.28,-0.377],[-0.3,-0.406],[-0.33,-0.424],[-0.36,-0.426],[-0.39,-0.41],[-0.45,-0.362],[-0.5,-0.338],[-0.55,-0.304],[-0.6,-0.26],[-0.655,-0.2]];
const B27 = [[-0.655,-0.2],[-0.6,-0.148],[-0.5,-0.056],[-0.4,0.04],[-0.3,0.159],[-0.25,0.225],[-0.2,0.307],[-0.15,0.413],
 [-0.1,0.515],[-0.05,0.69],[-0.02,0.81],[0.0,0.85],[0.021,0.775],[0.036,0.59],[0.047,0.39],[0.058,0.215],[0.07,0.122],[0.095,0.08],[0.15,0.058],
 [0.2,0.047],[0.3,0.041],[0.45,0.047],[0.6,0.064],[0.7,0.093],[0.8,0.147],[0.87,0.218],[0.93,0.3],[0.97,0.385],[1.0,0.5],
 [0.99,0.4],[0.98,0.32],[0.965,0.23],[0.95,0.172],[0.92,0.108],[0.885,0.072],[0.83,0.045],[0.768,0.035],[0.65,0.023],[0.5,0.009],[0.4,-0.01],[0.3,-0.024],[0.2,-0.031],[0.1,-0.041],
 [0.0,-0.056],[-0.1,-0.135],[-0.2,-0.255],[-0.25,-0.318],[-0.28,-0.38],[-0.3,-0.408],[-0.33,-0.424],[-0.36,-0.426],[-0.39,-0.41],[-0.45,-0.362],[-0.5,-0.338],[-0.55,-0.304],[-0.6,-0.26],[-0.655,-0.2]];
const B30 = [[-0.655,-0.2],[-0.6,-0.147],[-0.5,-0.054],[-0.4,0.042],[-0.3,0.162],[-0.25,0.228],[-0.2,0.31],[-0.15,0.416],
 [-0.1,0.518],[-0.05,0.695],[-0.02,0.82],[0.002,0.855],[0.022,0.78],[0.038,0.6],[0.05,0.4],[0.062,0.22],[0.075,0.125],[0.1,0.08],[0.15,0.06],
 [0.2,0.047],[0.3,0.04],[0.45,0.047],[0.6,0.063],[0.7,0.09],[0.8,0.145],[0.87,0.215],[0.93,0.295],[0.97,0.38],[1.0,0.49],
 [0.99,0.39],[0.98,0.31],[0.965,0.225],[0.95,0.17],[0.92,0.105],[0.885,0.07],[0.83,0.044],[0.768,0.034],[0.65,0.022],[0.5,0.009],[0.4,-0.01],[0.3,-0.024],[0.2,-0.032],[0.1,-0.042],
 [0.0,-0.057],[-0.1,-0.137],[-0.2,-0.258],[-0.25,-0.32],[-0.28,-0.382],[-0.3,-0.41],[-0.33,-0.424],[-0.36,-0.426],[-0.39,-0.41],[-0.45,-0.362],[-0.5,-0.339],[-0.55,-0.305],[-0.6,-0.258],[-0.655,-0.205]];
const gapB = [[0,0.045],[0,0.405]];

// ---------- ticks ----------
const ticksAx = [-0.75,-0.5,-0.25,0,0.25,0.5,0.75,1.0,1.25];
const labelsAx = [-0.5,0,0.5,1.0];
const ticksAy = [-0.5,-0.25,0,0.25,0.5,0.75,1.0,1.25];
const labelsAy = [-0.5,0,0.5,1.0];
const ticksBx = [-0.6,-0.3,0,0.3,0.6,0.9,1.2];
const ticksBy = [-0.3,0,0.3,0.6,0.9,1.2,1.5];

const cyclesA = [A01,A02,A03,A04,A05,A07,A09,A11,A13,A15,A17,A19,A21,A23,A27,A31,A35,A40];
const cyclesB = [B01,B02,B03,B04,B05,B06,B07,B08,B09,B10,B11,B12,B15,B18,B21,B24,B27,B30];

const FF = '"Liberation Sans", Arial, Helvetica, sans-serif';
const TXT = '#1a1a1a';
const NAVY = '#24248c';

function xAxis(gi, ticks, labels, nameGap) {
  return {
    type:'value', gridIndex:gi, min:-0.8, max:1.27,
    axisLine:{show:true, onZero:false, lineStyle:{color:'#333', width:1}},
    axisTick:{show:true, inside:false, length:5, customValues:ticks, lineStyle:{color:'#333', width:1}},
    axisLabel:{show:true, customValues:labels, margin:8, fontSize:17, color:TXT, fontFamily:FF,
      formatter:v=>(Math.abs(v)<1e-9?0:v).toFixed(1)},
    splitLine:{show:false},
    name:'{i|E} / V {i|vs.} SCE', nameLocation:'middle', nameGap:nameGap,
    nameTextStyle:{fontSize:19, color:TXT, fontFamily:FF,
      rich:{i:{fontStyle:'italic', fontSize:19, color:TXT, fontFamily:FF}}}
  };
}
function yAxis(gi, min, max, ticks, labels) {
  return {
    type:'value', gridIndex:gi, min:min, max:max,
    axisLine:{show:true, onZero:false, lineStyle:{color:'#333', width:1}},
    axisTick:{show:true, inside:false, length:5, customValues:ticks, lineStyle:{color:'#333', width:1}},
    axisLabel:{show:true, customValues:labels, margin:8, fontSize:17, color:TXT, fontFamily:FF,
      formatter:v=>(Math.abs(v)<1e-9?0:v).toFixed(1)},
    splitLine:{show:false}
  };
}

const series = [];
cyclesA.forEach(d => series.push({type:'line', xAxisIndex:0, yAxisIndex:0, data:d, showSymbol:false, symbol:'none',
  smooth:0.25, lineStyle:{color:NAVY, width:1}, silent:true, animation:false, z:2}));
cyclesB.forEach(d => series.push({type:'line', xAxisIndex:1, yAxisIndex:1, data:d, showSymbol:false, symbol:'none',
  smooth:0.25, lineStyle:{color:NAVY, width:1}, silent:true, animation:false, z:2}));
series.push({type:'line', xAxisIndex:0, yAxisIndex:0, data:gapA, showSymbol:false, symbol:'none', lineStyle:{color:'#fff', width:1.1}, silent:true, animation:false, z:5});
series.push({type:'line', xAxisIndex:1, yAxisIndex:1, data:gapB, showSymbol:false, symbol:'none', lineStyle:{color:'#fff', width:1.1}, silent:true, animation:false, z:5});

function arrow(x1,y1,x2,y2){
  const a=Math.atan2(y2-y1,x2-x1), L=10, W=4.5;
  const bx=x2-L*Math.cos(a), by=y2-L*Math.sin(a), px=-Math.sin(a), py=Math.cos(a);
  return [
    {type:'line', shape:{x1:x1,y1:y1,x2:bx,y2:by}, style:{stroke:TXT, lineWidth:1.6}, z:10},
    {type:'polygon', shape:{points:[[x2,y2],[bx+W*px,by+W*py],[bx-W*px,by-W*py]]}, style:{fill:TXT}, z:10}
  ];
}
function label(t,x,y){
  return {type:'text', x:x, y:y, z:10, style:{text:t, fontSize:19, fontFamily:FF, fill:TXT, align:'center', verticalAlign:'middle'}};
}
function yTitle(x,y){
  return {type:'text', x:x, y:y, rotation:Math.PI/2, z:10,
    style:{text:'{i|j} / mA cm{s|-2}', fontSize:19, fontFamily:FF, fill:TXT, align:'center', verticalAlign:'middle',
      rich:{i:{fontStyle:'italic', fontSize:19, fontFamily:FF, fill:TXT, lineHeight:24},
            n:{fontSize:19, fontFamily:FF, fill:TXT, lineHeight:24},
            s:{fontSize:12, fontFamily:FF, fill:TXT, verticalAlign:'top', lineHeight:14}}}};
}
const graphic = [].concat(
  [yTitle(25,191), yTitle(25,585)],
  [label('(A)',106.5,28.5), label('5',243.5,28.5), label('1',198.5,80), label('23',308.5,148.5), label('40',345,99)],
  arrow(208.3,73.3,231.7,39.3), arrow(257.3,48.3,301.7,126), arrow(320,143.3,337.5,111.7),
  [label('(B)',106.5,448.5), label('3',256,467), label('1',209.5,520), label('12',325,584.5), label('30',355.5,532.5)],
  arrow(213.3,515,243.3,479.3), arrow(269.3,482.3,318.3,566.7), arrow(334.4,572.7,348,547.7)
);

const chart = echarts.init(document.getElementById('c'), null, {renderer:'canvas'});
chart.setOption({
  backgroundColor:'#fff',
  animation:false,
  grid:[
    {left:81, top:14.1, width:530, height:339.2, containLabel:false, outerBoundsMode:'none'},
    {left:81, top:426.8, width:530, height:339.9, containLabel:false, outerBoundsMode:'none'}
  ],
  xAxis:[xAxis(0, ticksAx, labelsAx, 37), xAxis(1, ticksBx, ticksBx, 37)],
  yAxis:[yAxis(0, -0.534, 1.334, ticksAy, labelsAy), yAxis(1, -0.54, 1.515, ticksBy, ticksBy)],
  series:series,
  graphic:graphic
});
</script>
</body></html>
